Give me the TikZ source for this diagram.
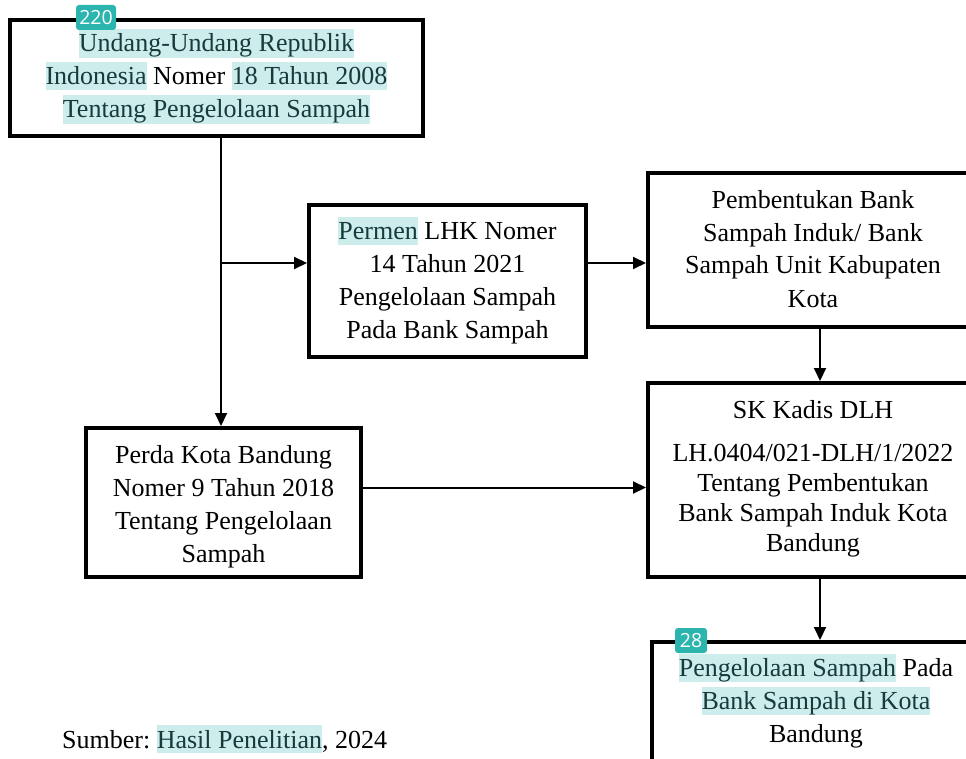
\documentclass[tikz,border=0pt]{standalone}
\usepackage{fontspec}
\setmainfont{Liberation Serif}
\newfontfamily\badgefont{Open Sans}
\usetikzlibrary{arrows.meta}

\definecolor{hlbg}{HTML}{CDEDED}
\definecolor{hlfg}{HTML}{183B3A}
\definecolor{badgecol}{HTML}{2CB4AE}

% highlighted words and a line strut shared by all text blocks
\newcommand\hlt[1]{{\setlength{\fboxsep}{0pt}\colorbox{hlbg}{\rule[-5pt]{0pt}{28pt}\textcolor{hlfg}{#1}}}}
\newcommand\lnstrut{\rule[-11pt]{0pt}{34pt}}
\AtBeginDocument{\setlength{\lineskiplimit}{-60pt}\frenchspacing}

\begin{document}
\begin{tikzpicture}[x=1pt,y=-1pt,
  box/.style={draw=black, line width=4pt, fill=white, inner sep=0pt},
  txt/.style={align=center, inner sep=0pt,
    font=\fontsize{26}{33}\selectfont},
  txtsk/.style={align=center, inner sep=0pt,
    font=\fontsize{26}{30}\selectfont},
  arr/.style={line width=2pt, -{Triangle[length=13pt,width=12pt]}},
  badge/.style={fill=badgecol, rounded corners=3pt, text=white, inner sep=0pt,
    minimum height=25pt, font=\badgefont\fontsize{19.5}{19.5}\selectfont}]

\useasboundingbox (0,0) rectangle (966,759);
\fill[white] (0,0) rectangle (966,759);
\clip (0,0) rectangle (966,759);

% boxes
\node[box, minimum width=413pt, minimum height=116pt] (b1) at (216.5,78) {};
\node[box, minimum width=277pt, minimum height=152pt] (b2) at (447.5,281) {};
\node[box, minimum width=330pt, minimum height=154pt] (b3) at (813,250) {};
\node[box, minimum width=330pt, minimum height=194pt] (b4) at (813,480) {};
\node[box, minimum width=328pt, minimum height=158pt] (b5) at (816,721) {};
\node[box, minimum width=275pt, minimum height=149pt] (b6) at (223.5,502.5) {};

% texts
\node[txt] (t1) at (216.5,79) {\lnstrut\hlt{Undang-Undang Republik}\\
  \hlt{Indonesia} Nomer \hlt{18 Tahun 2008}\\
  \lnstrut\hlt{Tentang Pengelolaan Sampah}};
\node[txt] (t2) at (447.5,283) {\lnstrut\hlt{Permen} LHK Nomer\\
  14 Tahun 2021\\ Pengelolaan Sampah\\ \lnstrut Pada Bank Sampah};
\node[txt] (t3) at (813,251.5) {\lnstrut Pembentukan Bank\\ Sampah Induk/ Bank\\
  Sampah Unit Kabupaten\\ \lnstrut Kota};
\node[txtsk] (t4) at (813,478.5) {\lnstrut SK Kadis DLH\\[13pt]
  LH.0404/021-DLH/1/2022\\ Tentang Pembentukan\\ Bank Sampah Induk Kota\\
  \lnstrut Bandung};
\node[txt] (t5) at (816,703.5) {\lnstrut\hlt{Pengelolaan Sampah} Pada\\
  \hlt{Bank Sampah di Kota}\\ \lnstrut Bandung};
\node[txt] (t6) at (223.5,507) {\lnstrut Perda Kota Bandung\\ Nomer 9 Tahun 2018\\
  Tentang Pengelolaan\\ \lnstrut Sampah};

\node[txt, anchor=west] (src) at (62,742) {\lnstrut Sumber: \hlt{Hasil Penelitian}, 2024};

% connectors
\coordinate (split) at (221,263);
\coordinate (rx) at (820,0);
\coordinate (py) at (0,487.5);
\draw[arr] (b1.south -| split) -- (b6.north -| split);
\draw[arr] (split) -- (b2.west |- split);
\draw[arr] (b2.east |- split) -- (b3.west |- split);
\draw[arr] (b3.south -| rx) -- (b4.north -| rx);
\draw[arr] (b4.south -| rx) -- (b5.north -| rx);
\draw[arr] (b6.east |- py) -- (b4.west |- py);

% page badges
\node[badge, minimum width=40pt] (p220) at (96,17.5) {220};
\node[badge, minimum width=32pt] (p28) at (691,640.5) {28};
\end{tikzpicture}
\end{document}
